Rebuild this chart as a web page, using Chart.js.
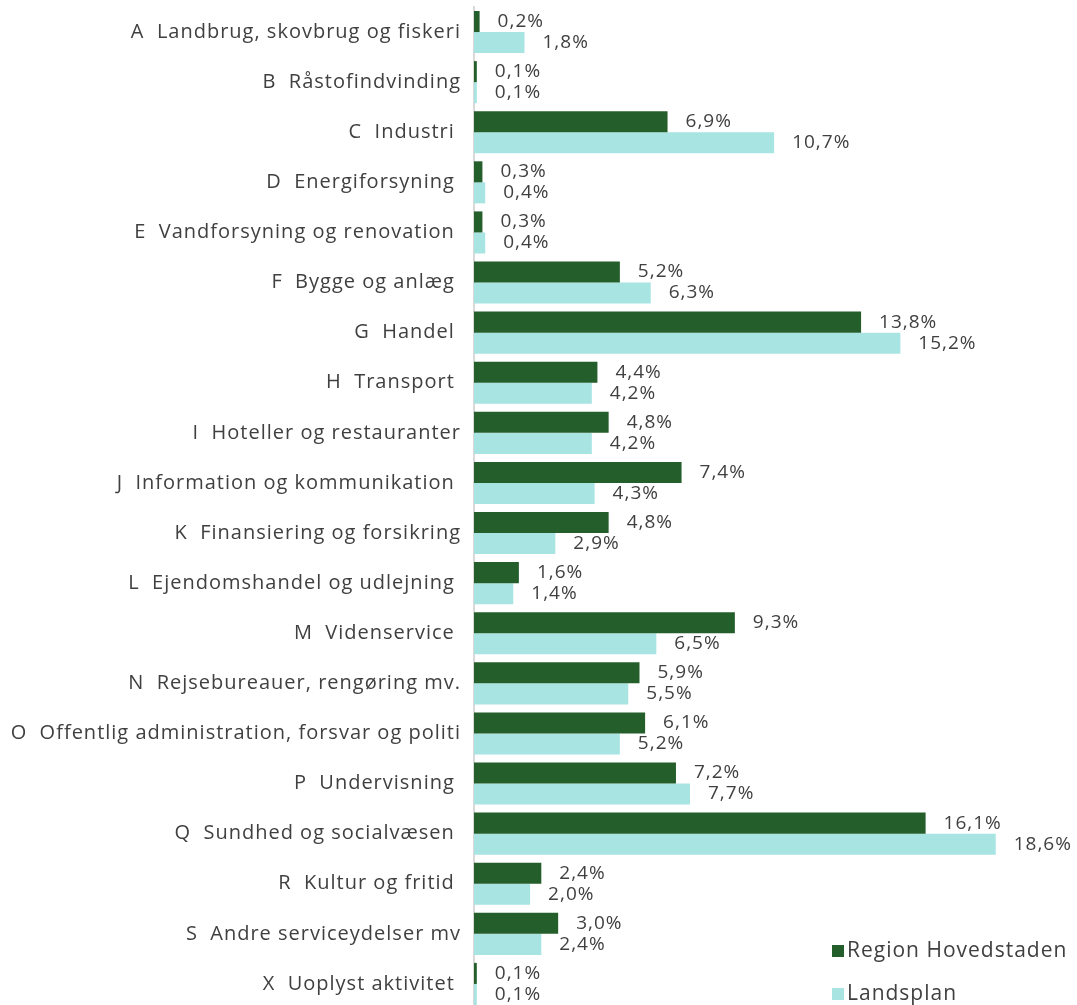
<!DOCTYPE html>
<html>
<head>
<meta charset="utf-8">
<script src="https://cdn.jsdelivr.net/npm/chart.js@4/dist/chart.umd.min.js"></script>
<style>
  html, body { margin: 0; padding: 0; background: #fff; overflow: hidden; }
  #wrap { position: relative; width: 1077px; height: 1009px; }
</style>
</head>
<body>
<div id="wrap"><canvas id="bar-chart"></canvas></div>
<script>
// data
var brancher = [
  'A  Landbrug, skovbrug og fiskeri',
  'B  Råstofindvinding',
  'C  Industri ',
  'D  Energiforsyning ',
  'E  Vandforsyning og renovation ',
  'F  Bygge og anlæg ',
  'G  Handel ',
  'H  Transport ',
  'I  Hoteller og restauranter',
  'J  Information og kommunikation ',
  'K  Finansiering og forsikring',
  'L  Ejendomshandel og udlejning ',
  'M  Videnservice ',
  'N  Rejsebureauer, rengøring mv.',
  'O  Offentlig administration, forsvar og politi',
  'P  Undervisning ',
  'Q  Sundhed og socialvæsen ',
  'R  Kultur og fritid ',
  'S  Andre serviceydelser mv',
  'X  Uoplyst aktivitet '
];
var hovedstaden = [0.2, 0.1, 6.9, 0.3, 0.3, 5.2, 13.8, 4.4, 4.8, 7.4, 4.8, 1.6, 9.3, 5.9, 6.1, 7.2, 16.1, 2.4, 3.0, 0.1];
var landsplan   = [1.8, 0.1, 10.7, 0.4, 0.4, 6.3, 15.2, 4.2, 4.2, 4.3, 2.9, 1.4, 6.5, 5.5, 5.2, 7.7, 18.6, 2.0, 2.4, 0.1];
var serier = ['Region Hovedstaden', 'Landsplan'];

var fontFam = '"Open Sans", "Liberation Sans", sans-serif';
var tekst = '#404040';

function pct(v){ return v.toFixed(1).replace('.', ',') + '%'; }

// the original font is a bit wider, so space the letters out
var spacing = {
  id: 'spacing',
  beforeLayout: function(chart){ chart.ctx.letterSpacing = '1px'; },
  beforeDraw: function(chart){ chart.ctx.letterSpacing = '1px'; }
};

// value labels at the end of each bar
var vaerdier = {
  id: 'vaerdier',
  afterDatasetsDraw: function(chart){
    var ctx = chart.ctx;
    ctx.save();
    ctx.letterSpacing = '1px';
    ctx.font = '19px ' + fontFam;
    ctx.fillStyle = tekst;
    ctx.textBaseline = 'middle';
    ctx.textAlign = 'left';
    chart.data.datasets.forEach(function(ds, i){
      chart.getDatasetMeta(i).data.forEach(function(bar, j){
        ctx.fillText(pct(ds.data[j]), bar.x + 18, bar.y);
      });
    });
    ctx.restore();
  }
};

// legend in the lower right corner, stacked
var forklaring = {
  id: 'forklaring',
  afterDraw: function(chart){
    var ctx = chart.ctx;
    ctx.save();
    ctx.letterSpacing = '1px';
    ctx.font = '21px ' + fontFam;
    ctx.textBaseline = 'middle';
    chart.data.datasets.forEach(function(ds, i){
      var y = 951 + i * 43;
      ctx.fillStyle = ds.backgroundColor;
      ctx.fillRect(832, y - 6, 12, 12);
      ctx.fillStyle = tekst;
      ctx.fillText(ds.label, 847, y);
    });
    ctx.restore();
  }
};

var ctx = document.getElementById('bar-chart');
var barGraph = new Chart(ctx, {
  type: 'bar',
  data: {
    labels: brancher,
    datasets: [
      { label: serier[0], data: hovedstaden, backgroundColor: '#245e2b', borderWidth: 0 },
      { label: serier[1], data: landsplan,   backgroundColor: '#a8e4e2', borderWidth: 0 }
    ]
  },
  options: {
    indexAxis: 'y',
    responsive: true,
    maintainAspectRatio: false,
    animation: false,
    layout: { padding: { top: 7, right: 42, bottom: 0, left: 0 } },
    datasets: { bar: { categoryPercentage: 0.84, barPercentage: 1.0 } },
    plugins: { legend: { display: false }, tooltip: { enabled: false } },
    scales: {
      x: { display: false, min: 0, max: 20 },
      y: {
        grid: { display: false },
        border: { display: true, color: '#d9d9d9', width: 2 },
        ticks: { color: tekst, font: { size: 20, family: fontFam }, padding: 5, autoSkip: false },
        afterFit: function(scale){
          scale.width = 474;
          scale.paddingTop = 0;
          scale.paddingBottom = 0;
        }
      }
    }
  },
  plugins: [spacing, vaerdier, forklaring]
});
</script>
</body>
</html>
